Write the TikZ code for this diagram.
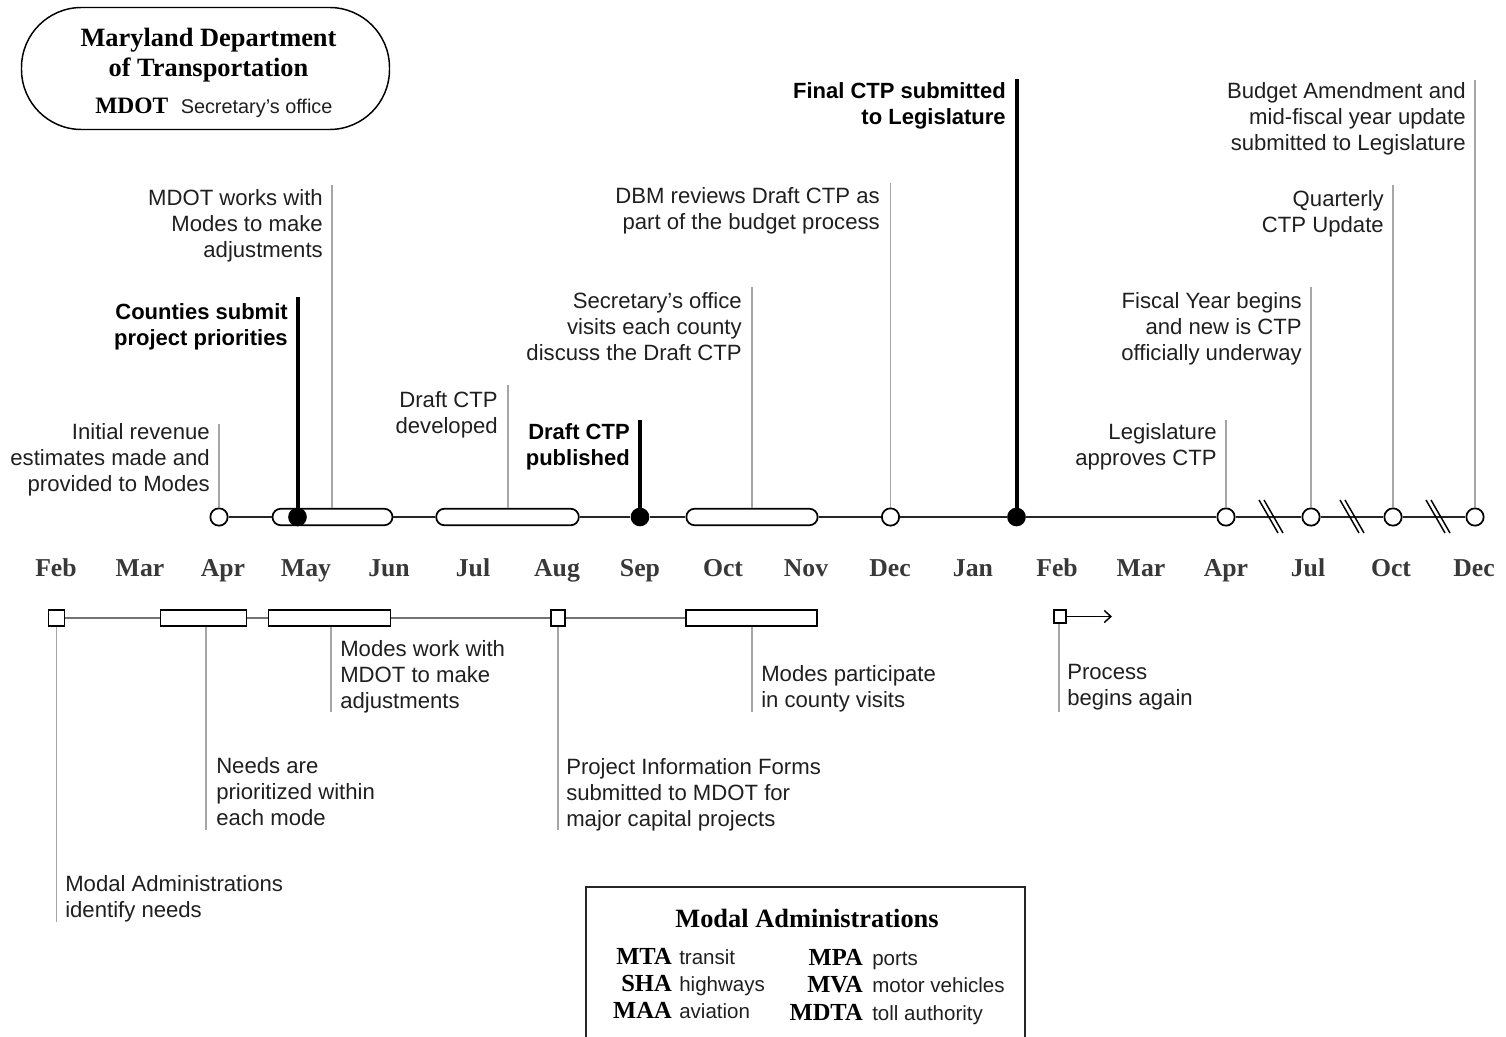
\documentclass[tikz,border=0pt]{standalone}
\usepackage{fontspec}
\setmainfont{Liberation Sans}
\newfontfamily\tnr{Liberation Serif}
\usetikzlibrary{arrows.meta}
\begin{document}
\begin{tikzpicture}[x=0.75pt,y=-0.75pt,
  txt/.style={inner sep=0pt, font=\fontsize{16.6}{19.5}\selectfont, text=black!88},
  rtxt/.style={txt, anchor=north east, align=right},
  ltxt/.style={txt, anchor=north west, align=left},
  btxt/.style={rtxt, font=\fontsize{16.5}{19.5}\selectfont\bfseries, text=black},
  mline/.style={line width=1.1pt, black!85},
  bline/.style={line width=1.1pt, black!55},
  leader/.style={line width=1.1pt, black!35},
  heavy/.style={line width=3pt, black},
  ocirc/.style={circle, draw, line width=1.3pt, fill=white, minimum size=13pt, inner sep=0pt},
  fcirc/.style={circle, fill=black, minimum size=14pt, inner sep=0pt},
  pill/.style={rectangle, rounded corners=6.2pt, draw, line width=1.3pt, fill=white, minimum height=12.4pt, minimum width=#1, inner sep=0pt},
  bbox/.style={rectangle, draw, line width=1.3pt, fill=white, minimum height=11.5pt, minimum width=#1, inner sep=0pt},
  month/.style={font=\tnr\bfseries\fontsize{19.3}{22}\selectfont, text=black!78, anchor=base, inner sep=0pt},
  serifb/.style={font=\tnr\bfseries\fontsize{19.8}{23}\selectfont, inner sep=0pt, anchor=base},
  abbr/.style={font=\tnr\bfseries\fontsize{18.4}{21}\selectfont, inner sep=0pt, anchor=base east},
  desc/.style={font=\fontsize{15.4}{18}\selectfont, inner sep=0pt, anchor=base west, text=black!88},
]
\useasboundingbox (0,0) rectangle (1506,1037);

% ---------- MDOT box ----------
\node[draw, line width=1.1pt, rectangle, rounded corners=45pt, minimum width=276pt, minimum height=91.5pt, inner sep=0pt] (mdot) at (205.5,68.5) {};
\node[serifb] (mdot1) at (208.5,47) {Maryland Department};
\node[serifb] (mdot2) at (208.5,77) {of Transportation};
\node[font=\tnr\bfseries\fontsize{17.6}{20}\selectfont, inner sep=0pt, anchor=base west] (mdot3) at (95,114) {MDOT};
\node[font=\fontsize{14.9}{18}\selectfont, inner sep=0pt, anchor=base west, text=black!88] (mdot4) at (180.5,114) {Secretary’s office};

% ---------- top timeline markers ----------
\node[ocirc] (apr) at (219,517) {};
\node[pill=90pt] (p1) at (332.5,517) {};
\node[fcirc] (may) at (297.5,517) {};
\node[pill=107pt] (p2) at (507.5,517) {};
\node[fcirc] (sep) at (640,517) {};
\node[pill=98.5pt] (p3) at (752,517) {};
\node[ocirc] (dec) at (890.5,517) {};
\node[fcirc] (jan) at (1016.5,517) {};
\node[ocirc] (apr2) at (1226,517) {};
\node[ocirc] (jul2) at (1311,517) {};
\node[ocirc] (oct2) at (1393,517) {};
\node[ocirc] (dec2) at (1475,517) {};

\draw[mline] (apr.east) -- (p1.west);
\draw[mline] (p1.east) -- (p2.west);
\draw[mline] (p2.east) -- (sep.west);
\draw[mline] (sep.east) -- (p3.west);
\draw[mline] (p3.east) -- (dec.west);
\draw[mline] (dec.east) -- (jan.west);
\draw[mline] (jan.east) -- (apr2.west);
\draw[mline] (apr2.east) -- (jul2.west);
\draw[mline] (jul2.east) -- (oct2.west);
\draw[mline] (oct2.east) -- (dec2.west);

% break marks
\foreach \cx in {1271,1352,1438}{
  \draw[line width=1.1pt] (\cx-12,500) -- (\cx+7,533);
  \draw[line width=1.1pt] (\cx-7,500) -- (\cx+12,533);
}

% ---------- top labels ----------
\node[rtxt] (t1) at (210,423) {Initial revenue\\estimates made and\\provided to Modes};
\node[btxt] (t2) at (288,303) {Counties submit\\project priorities};
\node[rtxt] (t3) at (323,189) {MDOT works with\\Modes to make\\adjustments};
\node[rtxt] (t4) at (498,391) {Draft CTP\\developed};
\node[btxt] (t5) at (630,423) {Draft CTP\\published};
\node[rtxt] (t6) at (742,292) {Secretary’s office\\visits each county\\discuss the Draft CTP};
\node[rtxt] (t7) at (880,187) {DBM reviews Draft CTP as\\part of the budget process};
\node[btxt] (t8) at (1006,82) {Final CTP submitted\\to Legislature};
\node[rtxt] (t9) at (1217,423) {Legislature\\approves CTP};
\node[rtxt] (t10) at (1302,292) {Fiscal Year begins\\and new is CTP\\officially underway};
\node[rtxt] (t11) at (1384,190) {Quarterly\\CTP Update};
\node[rtxt] (t12) at (1466,82) {Budget Amendment and\\mid-fiscal year update\\submitted to Legislature};

% leader tops
\coordinate (l1) at (219,424);
\coordinate (k2) at (297.5,297);
\coordinate (l3) at (332,185);
\coordinate (l4) at (508,385);
\coordinate (k5) at (640,420);
\coordinate (l6) at (752,287);
\coordinate (l7) at (890.5,183);
\coordinate (k8) at (1016.5,79);
\coordinate (l9) at (1226,420);
\coordinate (l10) at (1311,287);
\coordinate (l11) at (1393,185);
\coordinate (l12) at (1475,80);

\draw[leader] (apr.north) -- (l1);
\draw[leader] (l3 |- p1.north) -- (l3);
\draw[leader] (l4 |- p2.north) -- (l4);
\draw[leader] (l6 |- p3.north) -- (l6);
\draw[leader] (dec.north) -- (l7);
\draw[leader] (apr2.north) -- (l9);
\draw[leader] (jul2.north) -- (l10);
\draw[leader] (oct2.north) -- (l11);
\draw[leader] (dec2.north) -- (l12);
\draw[heavy] (may.center) -- (k2);
\draw[heavy] (sep.center) -- (k5);
\draw[heavy] (jan.center) -- (k8);

% ---------- months ----------
\foreach \mx/\mn/\id in {56/Feb/m1,140/Mar/m2,223/Apr/m3,306/May/m4,389/Jun/m5,473/Jul/m6,557/Aug/m7,640/Sep/m8,723/Oct/m9,806/Nov/m10,890/Dec/m11,973/Jan/m12,1057/Feb/m13,1141/Mar/m14,1226/Apr/m15,1308/Jul/m16,1391/Oct/m17,1474/Dec/m18}{
  \node[month] (\id) at (\mx,576) {\mn};
}

% ---------- bottom timeline ----------
\node[bbox=12pt] (q0) at (56.5,618) {};
\node[bbox=64.5pt] (q1) at (203.5,618) {};
\node[bbox=91.5pt] (q2) at (329.5,618) {};
\node[bbox=11pt] (q3) at (558,618) {};
\node[bbox=98pt] (q4) at (751.5,618) {};
\node[bbox=9.5pt, minimum height=9.5pt] (q5) at (1060,616.5) {};

\draw[bline] (q0.east) -- (q1.west);
\draw[bline] (q1.east) -- (q2.west);
\draw[bline] (q2.east) -- (q3.west);
\draw[bline] (q3.east) -- (q4.west);
\coordinate (arr) at (1112,616.5);
\draw[line width=1.1pt, -{Straight Barb[length=5pt,width=9pt,line width=1.1pt]}] (q5.east) -- (arr);

\coordinate (d0) at (56.5,922);
\coordinate (d1) at (206,830);
\coordinate (d2) at (331,712);
\coordinate (d3) at (558,830);
\coordinate (d4) at (752,712);
\coordinate (d5) at (1059,712);
\draw[leader] (q0.south) -- (d0);
\draw[leader] (d1 |- q1.south) -- (d1);
\draw[leader] (d2 |- q2.south) -- (d2);
\draw[leader] (q3.south) -- (d3);
\draw[leader] (d4 |- q4.south) -- (d4);
\draw[leader] (d5 |- q5.south) -- (d5);

\node[ltxt] (b1) at (340,640) {Modes work with\\MDOT to make\\adjustments};
\node[ltxt] (b2) at (761,665) {Modes participate\\in county visits};
\node[ltxt] (b3) at (1067,664) {Process\\begins again};
\node[ltxt] (b4) at (216,757) {Needs are\\prioritized within\\each mode};
\node[ltxt] (b5) at (566,758) {Project Information Forms\\submitted to MDOT for\\major capital projects};
\node[ltxt] (b6) at (65,875) {Modal Administrations\\identify needs};

% ---------- legend ----------
\draw[line width=1.3pt, black!85] (586,1045) -- (586,887) -- (1025,887) -- (1025,1045);
\node[serifb] (lgt) at (807,927) {Modal Administrations};
\node[abbr] (a1) at (672,964) {MTA};
\node[desc] (d1t) at (679,964) {transit};
\node[abbr] (a2) at (672,991) {SHA};
\node[desc] (d2t) at (679,991) {highways};
\node[abbr] (a3) at (672,1018) {MAA};
\node[desc] (d3t) at (679,1018) {aviation};
\node[abbr] (a4) at (863,965) {MPA};
\node[desc] (d4t) at (872,965) {ports};
\node[abbr] (a5) at (863,992) {MVA};
\node[desc] (d5t) at (872,992) {motor vehicles};
\node[abbr] (a6) at (863,1020) {MDTA};
\node[desc] (d6t) at (872,1020) {toll authority};
\end{tikzpicture}
\end{document}
